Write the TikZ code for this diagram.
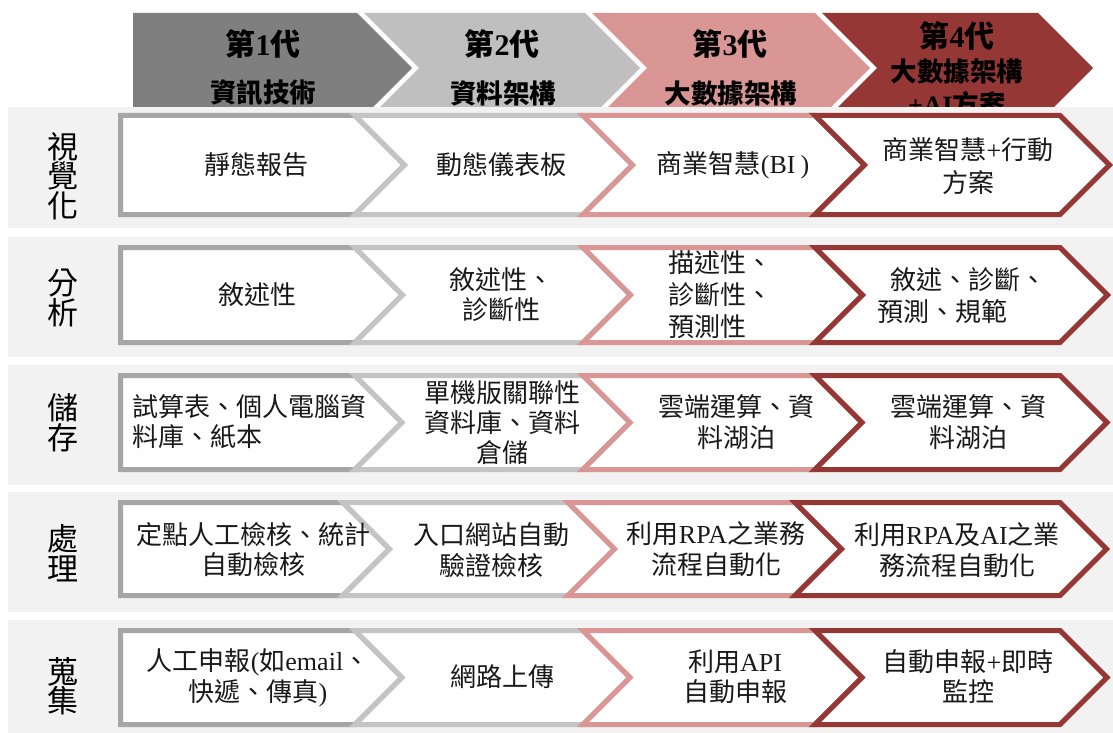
\documentclass[tikz,border=0pt]{standalone}
\usepackage{fontspec}
\setmainfont{Noto Sans CJK TC}
\newfontfamily\lat{Liberation Serif}
\definecolor{hcA}{HTML}{7F7F7F}
\definecolor{hcB}{HTML}{BFBFBF}
\definecolor{hcC}{HTML}{D99694}
\definecolor{hcD}{HTML}{953735}
\definecolor{rcA}{HTML}{A6A6A6}
\definecolor{rcB}{HTML}{C4C4C4}
\definecolor{rcC}{HTML}{D99694}
\definecolor{rcD}{HTML}{953735}
\definecolor{bgrow}{HTML}{F2F2F2}
\newcommand\chevfirst[5]{%
  \filldraw[rowchev,draw=#5] (#3,#1) -- (#4,#1) -- ({#4+(#2-#1)/2},{(#1+#2)/2}) -- (#4,#2) -- (#3,#2) -- cycle;}
\newcommand\chevnext[5]{%
  \filldraw[rowchev,draw=#5] (#3,#1) -- (#4,#1) -- ({#4+(#2-#1)/2},{(#1+#2)/2}) -- (#4,#2) -- (#3,#2) -- ({#3+(#2-#1)/2},{(#1+#2)/2}) -- cycle;}
\newcommand\chevrow[6]{%
  \chevfirst{#1}{#2}{120.5}{#3}{rcA}
  \chevnext{#1}{#2}{#3}{#4}{rcB}
  \chevnext{#1}{#2}{#4}{#5}{rcC}
  \chevnext{#1}{#2}{#5}{#6}{rcD}}
\begin{document}
\begin{tikzpicture}[x=1pt,y=-1pt,
  rowchev/.style={fill=white,line width=5pt,miter limit=10},
  hbig/.style={font=\fontsize{30}{32}\selectfont\bfseries,inner sep=0pt,align=center},
  hsmall/.style={font=\fontsize{26.5}{30}\selectfont\bfseries,inner sep=0pt,align=center},
  txt/.style={font=\fontsize{26}{31}\selectfont,inner sep=0pt,align=center,text=black!90},
  lbl/.style={font=\fontsize{31}{29.5}\selectfont,inner sep=0pt,align=center}]
\useasboundingbox (0,0) rectangle (1113,733);
\fill[white] (0,0) rectangle (1113,733);
% header chevrons
\fill[hcA] (133,13) -- (357,13) -- (412,68) -- (357,123) -- (133,123) -- cycle;
\fill[hcB] (364,13) -- (585,13) -- (640,68) -- (585,123) -- (364,123) -- (419,68) -- cycle;
\fill[hcC] (592,13) -- (815,13) -- (870,68) -- (815,123) -- (592,123) -- (647,68) -- cycle;
\fill[hcD] (822,13) -- (1038,13) -- (1093,68) -- (1038,123) -- (822,123) -- (877,68) -- cycle;
% header texts
\node[hbig] (h1a) at (263,44) {第{\lat 1}代};
\node[hsmall] (h1b) at (263,93) {資訊技術};
\node[hbig] (h2a) at (502,44) {第{\lat 2}代};
\node[hsmall] (h2b) at (503,93) {資料架構};
\node[hbig] (h3a) at (730,44) {第{\lat 3}代};
\node[hsmall] (h3b) at (731,93) {大數據架構};
\node[hbig] (h4a) at (957,36) {第{\lat 4}代};
\node[hsmall] (h4b) at (957,71) {大數據架構};
\node[hsmall] (h4c) at (957,104) {{\lat +AI}方案};
% row backgrounds
\fill[bgrow] (8,107) rectangle (1113,228);
\fill[bgrow] (8,237) rectangle (1113,357);
\fill[bgrow] (8,365) rectangle (1113,485);
\fill[bgrow] (8,492) rectangle (1113,612);
\fill[bgrow] (8,620) rectangle (1113,733);
% row chevrons
\chevrow{115.5}{214.5}{355}{583}{815}{1060}
\chevrow{247.5}{342.5}{355}{583}{815}{1060}
\chevrow{375.5}{469.5}{355}{583}{815}{1060}
\chevrow{502.5}{595.5}{343}{568}{795}{1060}
\chevrow{630.5}{724.5}{355}{583}{815}{1060}
% row labels
\node[lbl] (l1) at (63,176) {視\\覺\\化};
\node[lbl] (l2) at (63,298) {分\\析};
\node[lbl] (l3) at (63,423) {儲\\存};
\node[lbl] (l4) at (63,553) {處\\理};
\node[lbl] (l5) at (63,686) {蒐\\集};
% row 1
\node[txt] (t11) at (256,165) {靜態報告};
\node[txt] (t12) at (501,165) {動態儀表板};
\node[txt] (t13) at (733,165) {商業智慧{\lat (BI\hspace{5pt})}};
\node[txt,font=\fontsize{26}{33}\selectfont] (t14) at (968,166) {商業智慧{\lat +}行動\\方案};
% row 2
\node[txt,font=\fontsize{26}{30}\selectfont] (t21) at (257,295) {敘述性};
\node[txt,font=\fontsize{26}{30}\selectfont] (t22) at (501,295) {敘述性、\\診斷性};
\node[txt,font=\fontsize{26}{32}\selectfont,align=left,anchor=west] (t23) at (668,295) {描述性、\\診斷性、\\預測性};
\node[txt,font=\fontsize{26}{32}\selectfont,align=left,anchor=west] (t24) at (877,296) {\hspace*{13pt}敘述、診斷、\\預測、規範};
% row 3
\node[txt,font=\fontsize{26}{30}\selectfont,align=left,anchor=west] (t31) at (132,422) {試算表、個人電腦資\\料庫、紙本};
\node[txt,font=\fontsize{26}{30}\selectfont] (t32) at (502,423) {單機版關聯性\\資料庫、資料\\倉儲};
\node[txt,font=\fontsize{26}{31}\selectfont] (t33) at (736,422) {雲端運算、資\\料湖泊};
\node[txt,font=\fontsize{26}{31}\selectfont] (t34) at (968,422) {雲端運算、資\\料湖泊};
% row 4
\node[txt,font=\fontsize{26}{30}\selectfont] (t41) at (253,550) {定點人工檢核、統計\\自動檢核};
\node[txt,font=\fontsize{26}{31}\selectfont] (t42) at (491,550) {入口網站自動\\驗證檢核};
\node[txt,font=\fontsize{26}{31}\selectfont] (t43) at (716,549) {利用{\lat RPA}之業務\\流程自動化};
\node[txt,font=\fontsize{26}{31}\selectfont] (t44) at (957,550) {利用{\lat RPA}及{\lat AI}之業\\務流程自動化};
% row 5
\node[txt,font=\fontsize{26}{31}\selectfont] (t51) at (258,678) {人工申報{\lat (}如{\lat email}、\\快遞、傳真{\lat )}};
\node[txt] (t52) at (502,677) {網路上傳};
\node[txt,font=\fontsize{26}{30}\selectfont] (t53) at (735,677) {利用{\lat API}\\自動申報};
\node[txt,font=\fontsize{26}{30}\selectfont] (t54) at (968,677) {自動申報{\lat +}即時\\監控};
\end{tikzpicture}
\end{document}
